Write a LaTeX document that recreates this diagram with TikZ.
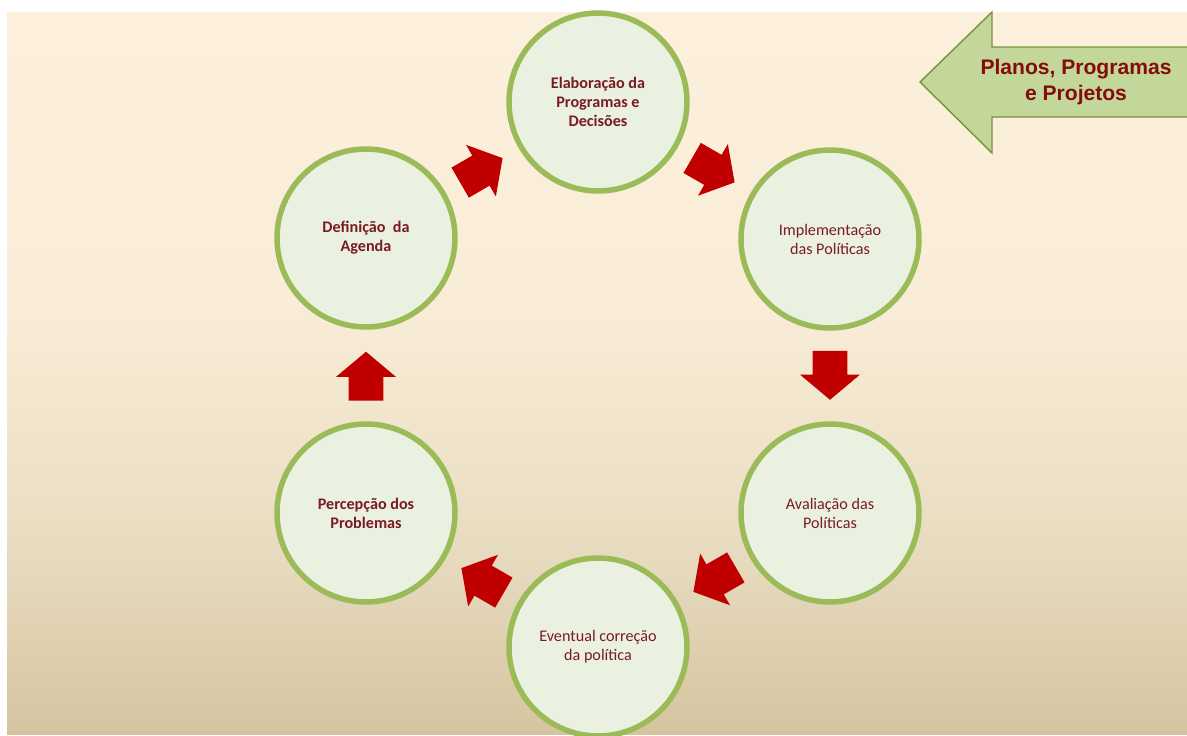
\documentclass[tikz,border=0pt]{standalone}
\usepackage{fontspec}
\setmainfont{Liberation Sans}
\newfontfamily\calfont{Carlito}
\usetikzlibrary{shapes.arrows,calc}
\definecolor{fundotopo}{HTML}{FCF0DC}
\definecolor{fundomeio}{HTML}{F9EDD8}
\definecolor{fundobaixo}{HTML}{E8DCC0}
\definecolor{fundobase}{HTML}{D5C4A0}
\definecolor{anel}{HTML}{9BBB59}
\definecolor{miolo}{HTML}{EBF1E0}
\definecolor{seta}{HTML}{C00000}
\definecolor{texto}{HTML}{7A1A22}
\definecolor{verdeclaro}{HTML}{C4D79B}
\definecolor{verdeescuro}{HTML}{77933C}
\definecolor{vinho}{HTML}{850C0C}
\pgfdeclareverticalshading{fundo}{100bp}{color(0bp)=(fundobase); color(25bp)=(fundobase); color(38bp)=(fundobaixo); color(55bp)=(fundomeio); color(75bp)=(fundotopo); color(100bp)=(fundotopo)}
\tikzset{
  etapa/.style={circle, draw=anel, fill=miolo, line width=0.11cm, minimum size=3.56cm, inner sep=0pt, align=center, text=texto, font=\calfont\bfseries\fontsize{9.2}{10.8}\selectfont},
  etapaleve/.style={etapa, font=\calfont\fontsize{9.2}{10.8}\selectfont},
  setinha/.style={single arrow, fill=seta, draw=none, inner xsep=0pt, inner ysep=0.34cm, minimum height=0.98cm, single arrow head extend=0.25cm, single arrow tip angle=100}
}
\begin{document}
\begin{tikzpicture}[x=0.02cm, y=-0.02cm]
  \useasboundingbox (0,0) rectangle (1187,735);
  \fill [white] (0,0) rectangle (1187,735);
  \shade [shading=fundo] (7,12) rectangle (1187,734);
  \node [etapa] (elab) at (598,102) {Elaboração da\\Programas e\\Decisões};
  \node [etapaleve] (impl) at (830,239) {Implementação\\das Políticas};
  \node [etapaleve] (aval) at (830,513) {Avaliação das\\Políticas};
  \node [etapaleve] (corr) at (598,647) {Eventual correção\\da política};
  \node [etapa] (perc) at (366,513) {Percepção dos\\Problemas};
  \node [etapa] (defi) at (366,238) {Definição\ \ da\\Agenda};
  \node [setinha, rotate=30, xshift=-0.16cm] (s1) at ($(defi)!0.5!(elab)$) {};
  \node [setinha, rotate=-30, xshift=-0.16cm] (s2) at ($(elab)!0.5!(impl)$) {};
  \node [setinha, rotate=-90, xshift=-0.16cm] (s3) at ($(impl)!0.5!(aval)$) {};
  \node [setinha, rotate=-150, xshift=-0.16cm] (s4) at ($(aval)!0.5!(corr)$) {};
  \node [setinha, rotate=150, xshift=-0.16cm] (s5) at ($(corr)!0.5!(perc)$) {};
  \node [setinha, rotate=90, xshift=-0.16cm] (s6) at ($(perc)!0.5!(defi)$) {};
  \draw [fill=verdeclaro, draw=verdeescuro, line width=0.8pt] (920,82) -- (992,12) -- (992,47) -- (1195,47) -- (1195,117) -- (992,117) -- (992,153) -- cycle;
  \node [text=vinho, font=\bfseries\fontsize{12}{14.4}\selectfont, align=center] (plan) at (1076,82) {Planos, Programas\\e Projetos};
\end{tikzpicture}
\end{document}
